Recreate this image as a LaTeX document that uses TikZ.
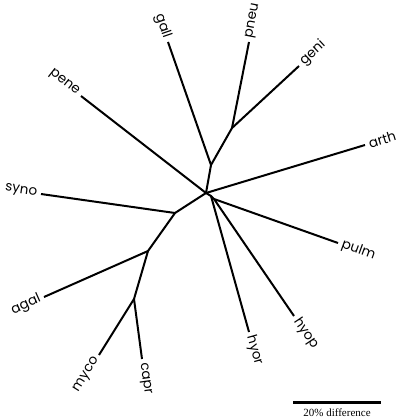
\documentclass[tikz,border=0pt]{standalone}
\usepackage{fontspec}
\setmainfont{Liberation Serif}
\newfontfamily\taxonfont{Poppins}
\usepackage{tikz}

\begin{document}
\begin{tikzpicture}[
  x=1pt, y=-1pt,
  branch/.style={line width=2pt, line join=round},
  taxon/.style={font=\taxonfont\fontsize{13.5}{13.5}\selectfont, inner sep=4pt},
  scalebar/.style={line width=3pt}
]
  \useasboundingbox (0,0) rectangle (400,417);

  % Internal nodes
  \coordinate (c)  at (206,193);
  \coordinate (g1) at (211,165);
  \coordinate (g2) at (232,128);
  \coordinate (s1) at (175,213);
  \coordinate (a1) at (148,251);
  \coordinate (m1) at (134,299);
  \coordinate (h1) at (211,196);
  \coordinate (h2) at (214,199);

  % Leaves
  \coordinate (gall) at (168,42);
  \coordinate (pneu) at (249,42);
  \coordinate (geni) at (299,66);
  \coordinate (pene) at (81,96);
  \coordinate (arth) at (365,145);
  \coordinate (syno) at (41,194);
  \coordinate (agal) at (44,297);
  \coordinate (myco) at (99,355);
  \coordinate (capr) at (142,359);
  \coordinate (hyor) at (249,332);
  \coordinate (hyop) at (294,316);
  \coordinate (pulm) at (338,243);

  % Upper clade
  \draw[branch] (c) -- (g1) -- (gall);
  \draw[branch] (g1) -- (g2) -- (pneu);
  \draw[branch] (g2) -- (geni);
  \draw[branch] (c) -- (pene);
  \draw[branch] (c) -- (arth);

  % Lower left clade
  \draw[branch] (c) -- (s1) -- (syno);
  \draw[branch] (s1) -- (a1) -- (agal);
  \draw[branch] (a1) -- (m1) -- (myco);
  \draw[branch] (m1) -- (capr);

  % Lower right clade
  \draw[branch] (c) -- (h1) -- (hyor);
  \draw[branch] (h1) -- (h2) -- (hyop);
  \draw[branch] (h2) -- (pulm);

  % Labels
  \node[taxon, anchor=east, rotate=-71] (gallL) at (gall) {gall};
  \node[taxon, anchor=west, rotate=79]  (pneuL) at (pneu) {pneu};
  \node[taxon, anchor=west, rotate=43]  (geniL) at (geni) {geni};
  \node[taxon, anchor=east, rotate=-38] (peneL) at (pene) {pene};
  \node[taxon, anchor=west, rotate=17]  (arthL) at (arth) {arth};
  \node[taxon, anchor=east, rotate=-8]  (synoL) at (syno) {syno};
  \node[taxon, anchor=east, rotate=24]  (agalL) at (agal) {agal};
  \node[taxon, anchor=east, rotate=58]  (mycoL) at (myco) {myco};
  \node[taxon, anchor=west, rotate=-82] (caprL) at (capr) {capr};
  \node[taxon, anchor=west, rotate=-74] (hyorL) at (hyor) {hyor};
  \node[taxon, anchor=west, rotate=-56] (hyopL) at (hyop) {hyop};
  \node[taxon, anchor=west, rotate=-20] (pulmL) at (pulm) {pulm};

  % Scale bar
  \coordinate (sb0) at (293,402);
  \coordinate (sb1) at (381,402);
  \draw[scalebar] (sb0) -- (sb1);
  \node[font=\fontsize{11}{11}\selectfont, anchor=base, inner sep=0pt] (sbL) at (337,416) {20\% difference};
\end{tikzpicture}
\end{document}
